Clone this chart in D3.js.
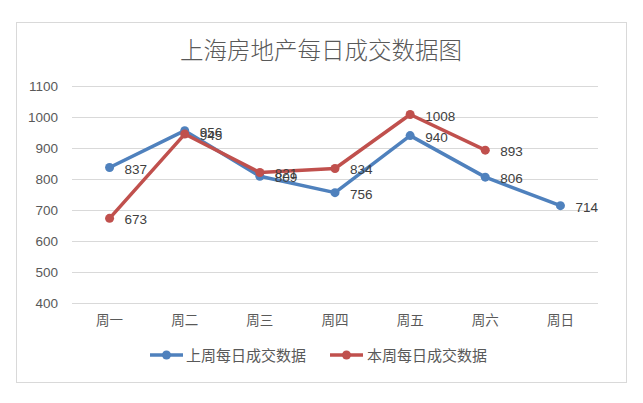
<!DOCTYPE html>
<html><head><meta charset="utf-8">
<script src="https://cdn.jsdelivr.net/npm/d3@7"></script>
<style>body{margin:0;background:#fff;}svg{display:block;}</style>
</head><body>
<script>
const categories = ["周一","周二","周三","周四","周五","周六","周日"];
const lastWeek = [837, 956, 809, 756, 940, 806, 714];
const thisWeek = [673, 945, 821, 834, 1008, 893];
const yTicks = [400,500,600,700,800,900,1000,1100];
const seriesNames = ["上周每日成交数据","本周每日成交数据"];
const colors = ["#4F81BD","#C0504D"];
const title = "上海房地产每日成交数据图";

const W=643,H=403;
const svg=d3.select("body").append("svg").attr("width",W).attr("height",H);
svg.append("rect").attr("x",16.5).attr("y",22.5).attr("width",610).attr("height",360)
  .attr("fill","#fff").attr("stroke","#D9D9D9");
const font="'Noto Sans CJK SC','Microsoft YaHei',sans-serif";
svg.append("text").attr("x",321).attr("y",59).attr("text-anchor","middle")
  .attr("font-family",font).attr("font-size",23.5).attr("font-weight",300).attr("fill","#595959").text(title);

const x=d3.scaleBand().domain(categories).range([72,598]);
const y=d3.scaleLinear().domain([400,1100]).range([303,86]);

const g=svg.append("g");
g.selectAll("line.grid").data(yTicks).join("line")
  .attr("x1",72).attr("x2",598).attr("y1",d=>Math.round(y(d))+0.5).attr("y2",d=>Math.round(y(d))+0.5)
  .attr("stroke","#D9D9D9").attr("stroke-width",1);
const yAxis=svg.append("g").attr("transform","translate(72,0)")
  .call(d3.axisLeft(y).tickValues(yTicks).tickFormat(d3.format("d")).tickSize(0).tickPadding(14));
yAxis.select(".domain").remove();
yAxis.selectAll("text").attr("font-family","'Liberation Sans',Arial,sans-serif").attr("font-size",13.5).attr("fill","#595959");
const xAxis=svg.append("g").attr("transform","translate(0,303)")
  .call(d3.axisBottom(x).tickSize(0).tickPadding(12));
xAxis.select(".domain").remove();
xAxis.selectAll("text").attr("font-family",font).attr("font-size",13.5).attr("fill","#595959");

const cx=c=>x(c)+x.bandwidth()/2;
[lastWeek,thisWeek].forEach((vals,i)=>{
  const pts=vals.map((v,j)=>({c:categories[j],v}));
  const line=d3.line().x(d=>cx(d.c)).y(d=>y(d.v));
  svg.append("path").datum(pts).attr("d",line).attr("fill","none")
    .attr("stroke",colors[i]).attr("stroke-width",3.5).attr("stroke-linejoin","round");
  svg.selectAll(null).data(pts).join("circle").attr("cx",d=>cx(d.c)).attr("cy",d=>y(d.v)).attr("r",4.5).attr("fill",colors[i]);
  svg.selectAll(null).data(pts).join("text").attr("x",d=>cx(d.c)+15).attr("y",d=>y(d.v)+6)
    .attr("font-family","'Liberation Sans',Arial,sans-serif").attr("font-size",13.5).attr("fill","#404040").text(d=>d.v);
});

const leg=svg.append("g");
const legItems=[{x:150,tx:186},{x:330,tx:367}];
legItems.forEach((it,i)=>{
  leg.append("line").attr("x1",it.x).attr("x2",it.x+33).attr("y1",355).attr("y2",355).attr("stroke",colors[i]).attr("stroke-width",3.5);
  leg.append("circle").attr("cx",it.x+16.5).attr("cy",355).attr("r",4.5).attr("fill",colors[i]);
  leg.append("text").attr("x",it.tx).attr("y",360.5).attr("font-family",font).attr("font-size",15).attr("fill","#595959").text(seriesNames[i]);
});
</script>
</body></html>
